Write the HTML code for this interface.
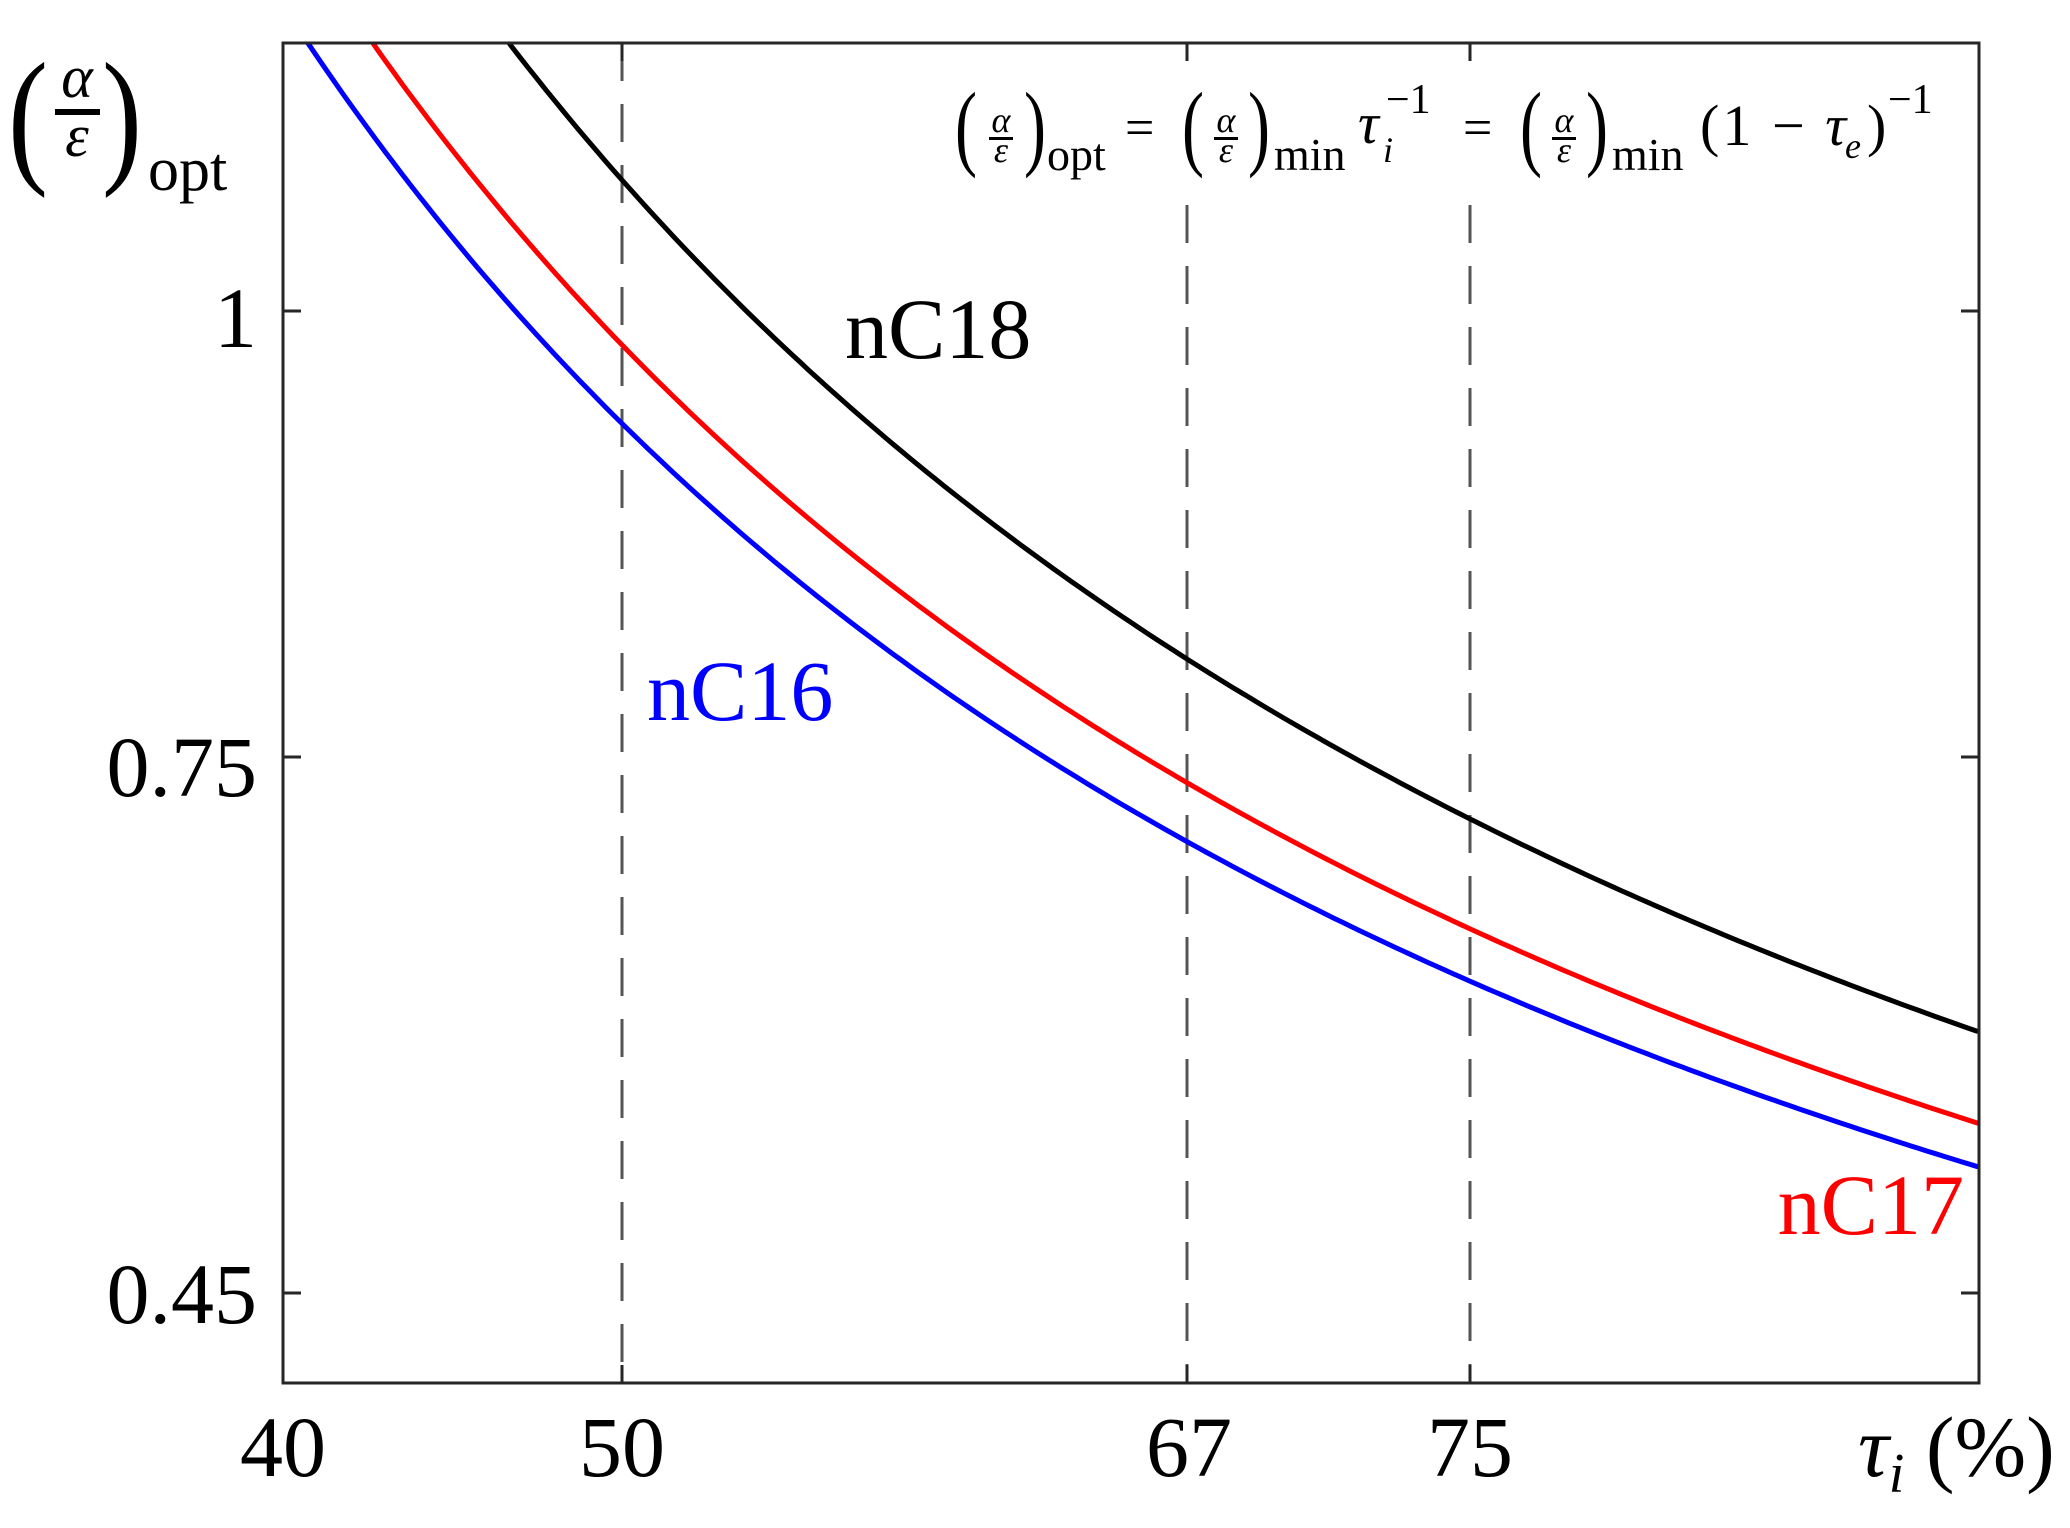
<!DOCTYPE html>
<html><head><meta charset="utf-8"><style>
html,body{margin:0;padding:0;background:#fff}
svg{display:block}
text{font-family:"Liberation Serif",serif}
</style></head><body>
<svg id="s" width="2070" height="1528" viewBox="0 0 2070 1528" xmlns="http://www.w3.org/2000/svg">
<rect width="2070" height="1528" fill="#fff"/>
<g stroke="#555" stroke-width="3" stroke-dasharray="38,23" fill="none">
<line x1="622" y1="43" x2="622" y2="1383"/>
<line x1="1187" y1="205" x2="1187" y2="1383"/>
<line x1="1470" y1="205" x2="1470" y2="1383"/>
</g>
<path id="cb" fill="none" stroke="#000" stroke-width="5"/>
<path id="cr" fill="none" stroke="#f00" stroke-width="5"/>
<path id="cu" fill="none" stroke="#00f" stroke-width="5"/>
<rect x="283" y="43" width="1696" height="1340" fill="none" stroke="#262626" stroke-width="3"/>
<g stroke="#262626" stroke-width="3">
<line x1="283" y1="311" x2="301" y2="311"/><line x1="1979" y1="311" x2="1961" y2="311"/>
<line x1="283" y1="757" x2="301" y2="757"/><line x1="1979" y1="757" x2="1961" y2="757"/>
<line x1="283" y1="1293" x2="301" y2="1293"/><line x1="1979" y1="1293" x2="1961" y2="1293"/>
<line x1="622" y1="1383" x2="622" y2="1365"/><line x1="1187" y1="1383" x2="1187" y2="1365"/><line x1="1470" y1="1383" x2="1470" y2="1365"/>
<line x1="622" y1="43" x2="622" y2="61"/><line x1="1187" y1="43" x2="1187" y2="61"/><line x1="1470" y1="43" x2="1470" y2="61"/>
</g>
<g font-size="86" fill="#000">
<text x="257" y="347" text-anchor="end">1</text>
<text x="257" y="796" text-anchor="end">0.75</text>
<text x="257" y="1323" text-anchor="end">0.45</text>
<text x="283" y="1476" text-anchor="middle">40</text>
<text x="622" y="1476" text-anchor="middle">50</text>
<text x="1189" y="1476" text-anchor="middle">67</text>
<text x="1470" y="1476" text-anchor="middle">75</text>
<text x="1858" y="1476"><tspan font-style="italic">τ</tspan><tspan font-size="56" font-style="italic" dy="16">i</tspan><tspan dy="-16"> (%)</tspan></text>
<text x="845" y="358">nC18</text>
<text x="647" y="720" fill="#00f">nC16</text>
<text x="1964" y="1234" fill="#f00" text-anchor="end">nC17</text>
</g>
<g fill="#000">
<text x="8" y="166" font-size="150" textLength="40" lengthAdjust="spacingAndGlyphs">(</text>
<text x="102" y="166" font-size="150" textLength="40" lengthAdjust="spacingAndGlyphs">)</text>
<text x="77" y="97" font-size="60" font-style="italic" text-anchor="middle">α</text>
<rect x="55" y="109" width="45" height="6"/>
<text x="77" y="156" font-size="60" font-style="italic" text-anchor="middle">ε</text>
<text x="148" y="190" font-size="62">opt</text>
</g>
<rect x="950" y="80" width="1000" height="105" fill="#fff"/>
<g fill="#000">
<text x="955" y="158" font-size="95" textLength="22" lengthAdjust="spacingAndGlyphs">(</text>
<text x="1001" y="132" font-size="36" font-style="italic" text-anchor="middle">α</text>
<rect x="989" y="137" width="24" height="3"/>
<text x="1001" y="162" font-size="36" font-style="italic" text-anchor="middle">ε</text>
<text x="1024" y="158" font-size="95" textLength="22" lengthAdjust="spacingAndGlyphs">)</text>
<text x="1047" y="170" font-size="46">opt</text>
<text x="1125" y="145" font-size="52">=</text>
<text x="1182" y="158" font-size="95" textLength="22" lengthAdjust="spacingAndGlyphs">(</text>
<text x="1226" y="132" font-size="36" font-style="italic" text-anchor="middle">α</text>
<rect x="1214" y="137" width="24" height="3"/>
<text x="1226" y="162" font-size="36" font-style="italic" text-anchor="middle">ε</text>
<text x="1248" y="158" font-size="95" textLength="22" lengthAdjust="spacingAndGlyphs">)</text>
<text x="1274" y="170" font-size="46">min</text>
<text x="1358" y="143" font-size="58" font-style="italic">τ</text>
<text x="1383" y="162" font-size="36" font-style="italic">i</text>
<text x="1386" y="113" font-size="42">−1</text>
<text x="1463" y="145" font-size="52">=</text>
<text x="1520" y="158" font-size="95" textLength="22" lengthAdjust="spacingAndGlyphs">(</text>
<text x="1564" y="132" font-size="36" font-style="italic" text-anchor="middle">α</text>
<rect x="1552" y="137" width="24" height="3"/>
<text x="1564" y="162" font-size="36" font-style="italic" text-anchor="middle">ε</text>
<text x="1586" y="158" font-size="95" textLength="22" lengthAdjust="spacingAndGlyphs">)</text>
<text x="1612" y="170" font-size="46">min</text>
<text x="1700" y="145" font-size="58" textLength="146" lengthAdjust="spacing">(1 − <tspan font-style="italic">τ</tspan></text>
<text x="1845" y="158" font-size="36" font-style="italic">e</text>
<text x="1867" y="145" font-size="58">)</text>
<text x="1888" y="113" font-size="42">−1</text>
</g>
<script>
function px(t){return 283+(t-40)*33.9;}
function py(v){return 311-(v-1)*1785;}
function mk(id,c){var t0=c/1.15*100;var d="M"+px(t0).toFixed(1)+",43";for(var t=Math.ceil(t0*4)/4;t<=90.001;t+=0.25){var v=c/(t/100);d+="L"+px(t).toFixed(1)+","+py(v).toFixed(1);}
document.getElementById(id).setAttribute("d",d);}
mk("cb",0.5367);mk("cr",0.4905);mk("cu",0.4685);
</script>
</svg>
</body></html>
